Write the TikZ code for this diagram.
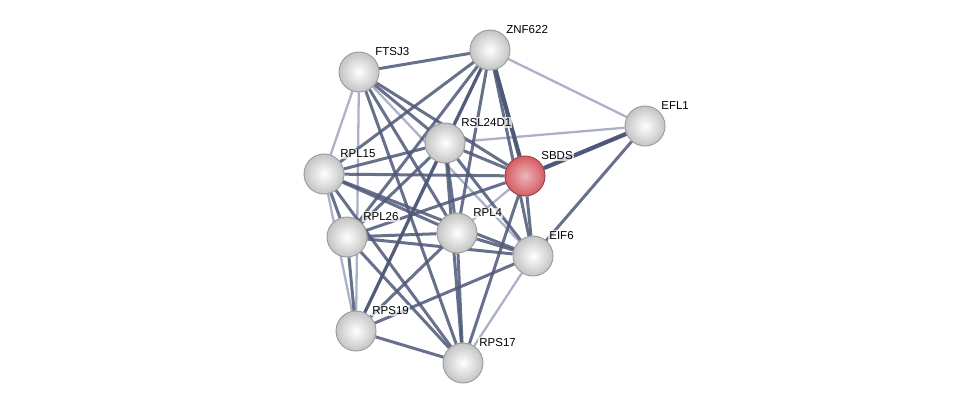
\documentclass[tikz,border=0pt]{standalone}
\usepackage{fontspec}
\setsansfont{Liberation Sans}
\usepackage{tikz}
\usetikzlibrary{positioning, calc, backgrounds}
\definecolor{cEdge}{HTML}{4E5878}
\definecolor{cLight}{HTML}{A2A9C2}
\definecolor{cBall}{HTML}{C4C4C4}
\definecolor{cSeed}{HTML}{D65C63}
\tikzstyle{lbl}   = [font=\sffamily\fontsize{11.5}{13}\selectfont, inner sep=1pt, label distance=1pt, fill=white, fill opacity=0.7, text opacity=1]
\tikzstyle{prot}  = [circle, minimum size=40pt, inner sep=0pt, draw=gray!80, line width=0.9pt, inner color=white, outer color=cBall,
  label={[lbl]45:#1}]
\tikzstyle{seed}  = [circle, minimum size=40pt, inner sep=0pt, draw=cSeed!70!black, line width=0.9pt, inner color=cSeed!45, outer color=cSeed,
  label={[lbl]45:#1}]
\tikzstyle{link}  = [cEdge, opacity=0.85, line width=3pt]
\tikzstyle{weak}  = [cLight, opacity=0.9, line width=2.3pt]
\tikzstyle{strong}= [cEdge, line width=4.2pt]

\begin{document}
\begin{tikzpicture}[x=1pt, y=-1pt]
\useasboundingbox (0,0) rectangle (975,409);
% proteins
\node (ftsj3)   [prot=FTSJ3]   at (359,72) {};
\node (znf622)  [prot=ZNF622]  at (490,50) {};
\node (efl1)    [prot=EFL1]    at (645,126) {};
\node (rsl24d1) [prot=RSL24D1] at (445,143) {};
\node (sbds)    [seed=SBDS]    at (525,176) {};
\node (rpl15)   [prot=RPL15]   at (324,174) {};
\node (rpl26)   [prot=RPL26]   at (347,237) {};
\node (rpl4)    [prot=RPL4]    at (457,233) {};
\node (eif6)    [prot=EIF6]    at (533,256) {};
\node (rps19)   [prot=RPS19]   at (356,331) {};
\node (rps17)   [prot=RPS17]   at (463,363) {};

% edges
\begin{scope}[on background layer]
\draw [weak] (znf622) -- (efl1);
\draw [weak] (rsl24d1) -- (efl1);
\draw [weak] (ftsj3) -- (rpl15);
\draw [weak] (ftsj3) -- (rps19);
\draw [weak] (ftsj3) -- (eif6);
\draw [weak] (eif6) -- (rps17);
\draw [weak] (rpl4) -- (sbds);
\draw [weak] (rpl15) -- (rps19);
\draw [link] (ftsj3) -- (znf622);
\draw [link] (ftsj3) -- (rsl24d1);
\draw [link] (ftsj3) -- (sbds);
\draw [link] (ftsj3) -- (rpl4);
\draw [link] (ftsj3) -- (rps17);
\draw [link] (znf622) -- (rpl15);
\draw [link] (znf622) -- (rpl26);
\draw [link] (znf622) -- (rsl24d1);
\draw [link] (znf622) -- (rpl4);
\draw [link] (znf622) -- (rps19);
\draw [link] (znf622) -- (eif6);
\draw [strong] (znf622) -- (sbds);
\draw [strong] (sbds) -- (efl1);
\draw [link] (eif6) -- (efl1);
\draw [link] (rsl24d1) -- (rpl15);
\draw [link] (rsl24d1) -- (rpl26);
\draw [link] (rsl24d1) -- (rpl4);
\draw [link] (rsl24d1) -- (sbds);
\draw [link] (rsl24d1) -- (eif6);
\draw [link] (rsl24d1) -- (rps19);
\draw [link] (rsl24d1) -- (rps17);
\draw [link] (sbds) -- (rpl15);
\draw [link] (sbds) -- (rpl26);
\draw [link] (sbds) -- (eif6);
\draw [link] (sbds) -- (rps17);
\draw [link] (rpl15) -- (rpl26);
\draw [link] (rpl15) -- (rpl4);
\draw [link] (rpl15) -- (eif6);
\draw [link] (rpl15) -- (rps17);
\draw [link] (rpl26) -- (rpl4);
\draw [link] (rpl26) -- (eif6);
\draw [link] (rpl26) -- (rps19);
\draw [link] (rpl26) -- (rps17);
\draw [link] (rpl4) -- (eif6);
\draw [link] (rpl4) -- (rps19);
\draw [link] (rpl4) -- (rps17);
\draw [link] (eif6) -- (rps19);
\draw [link] (rps19) -- (rps17);
\end{scope}
\end{tikzpicture}
\end{document}
